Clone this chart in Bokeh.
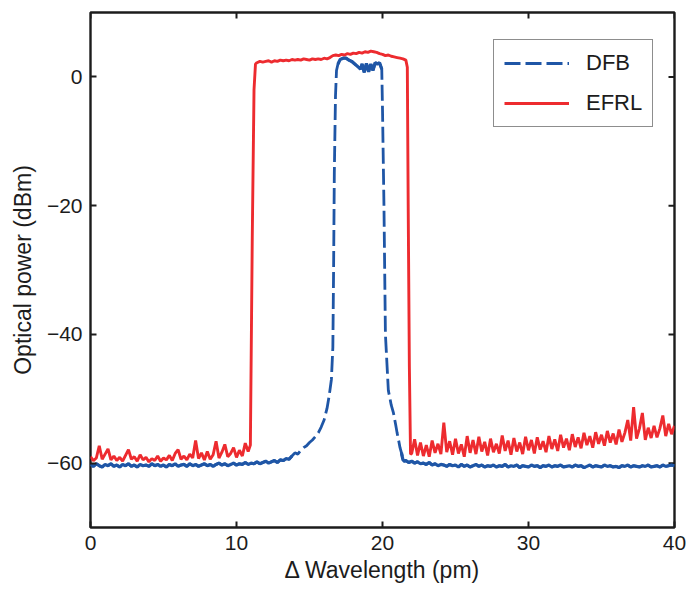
import numpy as np
from bokeh.plotting import figure
from bokeh.models import Range1d, Legend, LegendItem, FixedTicker
from bokeh.embed import file_html
from bokeh.resources import INLINE

# ---------------- data ----------------
x_ticks = [0, 10, 20, 30, 40]
y_ticks = [-60, -40, -20, 0]
y_tick_labels = {-60: "\u221260", -40: "\u221240", -20: "\u221220", 0: "0"}
x_lim = (0, 40)
y_lim = (-70, 10)

# DFB: left floor (x = 0.0 .. 13.0, step 0.2)
dfb_left_y = [
    -60.2, -60.5, -60.1, -60.4, -60.6, -60.2, -60.4, -60.1, -60.5, -60.3,
    -60.6, -60.2, -60.4, -60.1, -60.5, -60.3, -60.6, -60.2, -60.4, -60.3,
    -60.5, -60.1, -60.4, -60.2, -60.5, -60.3, -60.6, -60.2, -60.4, -60.1,
    -60.5, -60.3, -60.2, -60.5, -60.1, -60.4, -60.2, -60.5, -60.3, -60.1,
    -60.4, -60.2, -60.5, -60.2, -60.0, -60.3, -60.1, -60.4, -60.2, -60.0,
    -60.3, -60.1, -60.2, -59.9, -60.2, -60.0, -60.1, -59.8, -60.1, -59.9,
    -59.7, -60.0, -59.8, -59.6, -59.9, -59.5,
]
# DFB: passband
dfb_mid_x = [
    13.2, 13.4, 13.6, 13.8, 14.0, 14.2, 14.4, 14.6, 14.8, 15.0,
    15.2, 15.4, 15.6, 15.8, 16.0, 16.2, 16.35, 16.5, 16.6, 16.65,
    16.7, 16.78, 16.85, 16.95, 17.1, 17.3, 17.5, 17.7, 17.9, 18.1,
    18.3, 18.5, 18.6, 18.75, 18.9, 19.05, 19.2, 19.35, 19.5, 19.65,
    19.8, 19.95, 20.0, 20.1, 20.2, 20.4, 20.6, 20.75, 20.9, 21.0,
    21.1, 21.2, 21.3, 21.4, 21.5,
]
dfb_mid_y = [
    -59.6, -59.3, -59.4, -58.9, -58.4, -58.6, -58.0, -57.6, -57.3, -56.8,
    -56.4, -55.9, -55.3, -54.4, -53.3, -51.5, -49.5, -47.0, -42.0, -30.0,
    -15.0, -3.0, 1.0, 2.0, 2.7, 2.9, 2.9, 2.6, 2.4, 2.0,
    1.6, 1.2, 2.0, 0.7, 2.1, 0.8, 2.0, 1.0, 2.2, 2.0,
    2.2, 1.2, -5.0, -20.0, -40.0, -48.7, -51.0, -52.2, -54.0, -55.3,
    -56.4, -57.6, -58.4, -59.5, -59.7,
]
# DFB: right floor (x = 21.6 .. 40.0, step 0.2)
dfb_right_y = [
    -59.6, -59.9, -59.7, -60.0, -59.8, -60.1, -60.0, -60.2, -59.9, -60.3,
    -60.1, -60.4, -60.2, -60.3, -60.5, -60.2, -60.4, -60.3, -60.6, -60.2,
    -60.5, -60.3, -60.6, -60.4, -60.2, -60.5, -60.3, -60.6, -60.4, -60.5,
    -60.3, -60.6, -60.4, -60.5, -60.2, -60.6, -60.4, -60.5, -60.3, -60.7,
    -60.4, -60.5, -60.6, -60.3, -60.5, -60.4, -60.7, -60.4, -60.5, -60.3,
    -60.6, -60.4, -60.5, -60.3, -60.6, -60.5, -60.4, -60.6, -60.3, -60.5,
    -60.4, -60.7, -60.5, -60.3, -60.6, -60.4, -60.5, -60.6, -60.3, -60.5,
    -60.4, -60.6, -60.5, -60.7, -60.4, -60.5, -60.3, -60.6, -60.4, -60.5,
    -60.6, -60.4, -60.5, -60.3, -60.6, -60.5, -60.4, -60.6, -60.3, -60.5,
    -60.4, -60.3, -60.4,
]

# EFRL: left floor (x = 0.0 .. 10.8, step 0.2)
efrl_left_y = [
    -59.0, -59.6, -59.2, -57.3, -59.4, -58.6, -57.8, -59.5, -58.9, -59.6,
    -59.1, -59.7, -58.8, -57.9, -59.4, -59.0, -59.7, -58.7, -59.5, -59.1,
    -59.8, -59.3, -59.6, -58.9, -59.7, -59.2, -59.5, -58.8, -59.6, -58.5,
    -57.9, -59.4, -58.9, -59.5, -58.6, -59.2, -56.5, -59.3, -58.4, -59.5,
    -58.2, -59.4, -58.7, -56.6, -59.2, -58.3, -57.1, -59.0, -58.5, -57.6,
    -59.1, -58.0, -58.9, -56.9, -58.2,
]
efrl_rise_x = [10.95, 11.08, 11.2, 11.3]
efrl_rise_y = [-57.2, -25.0, -2.0, 2.0]
# EFRL: top (x = 11.4 .. 21.6, step 0.2)
efrl_top_y = [
    2.2, 2.4, 2.3, 2.4, 2.5, 2.3, 2.5, 2.4, 2.6, 2.5,
    2.6, 2.5, 2.7, 2.6, 2.7, 2.6, 2.8, 2.7, 2.6, 2.8,
    2.7, 2.8, 2.7, 2.9, 2.8, 3.0, 3.3, 3.4, 3.3, 3.5,
    3.4, 3.6, 3.5, 3.7, 3.6, 3.8, 3.7, 3.9, 3.8, 4.0,
    3.9, 3.8, 3.6, 3.5, 3.3, 3.4, 3.2, 3.1, 3.0, 2.9,
    2.8, 2.6,
]
efrl_fall_x = [21.7, 21.76, 21.84, 21.92]
efrl_fall_y = [1.5, -20.0, -45.0, -58.6]
# EFRL: right floor (x = 22.0 .. 40.0, step 0.2)
efrl_right_y = [
    -58.5, -56.3, -58.8, -56.8, -58.9, -57.2, -59.0, -56.5, -58.4, -57.0,
    -58.6, -53.7, -58.3, -56.6, -58.7, -56.2, -58.5, -57.1, -59.0, -55.8,
    -58.4, -56.4, -58.6, -55.9, -58.2, -56.7, -58.8, -56.2, -58.3, -57.0,
    -58.5, -55.7, -58.1, -56.5, -58.7, -56.1, -58.2, -56.8, -58.6, -55.9,
    -58.0, -56.4, -58.5, -56.0, -57.9, -56.6, -58.3, -55.8, -57.8, -56.3,
    -58.1, -55.6, -57.6, -56.2, -58.0, -55.5, -57.5, -56.0, -57.7, -55.3,
    -57.2, -55.8, -57.6, -55.2, -57.0, -55.6, -57.3, -55.0, -56.8, -55.4,
    -57.1, -54.8, -56.7, -55.3, -53.3, -56.5, -51.3, -56.2, -54.6, -52.2,
    -56.4, -54.5, -56.1, -54.2, -56.0, -54.6, -52.6, -55.8, -53.9, -55.5,
    -54.2,
]


def grid(start, ys, step=0.2):
    return [float(v) for v in np.round(start + step * np.arange(len(ys)), 3)]


dfb_x = grid(0.0, dfb_left_y) + dfb_mid_x + grid(21.6, dfb_right_y)
dfb_y = dfb_left_y + dfb_mid_y + dfb_right_y
efrl_x = (grid(0.0, efrl_left_y) + efrl_rise_x + grid(11.4, efrl_top_y)
          + efrl_fall_x + grid(22.0, efrl_right_y))
efrl_y = efrl_left_y + efrl_rise_y + efrl_top_y + efrl_fall_y + efrl_right_y

# ---------------- style ----------------
FONT = "Liberation Sans"
TXT = "#1c1c1c"
BLUE = "#1F56A6"
RED = "#ED2B2F"

p = figure(width=687, height=592, x_range=Range1d(*x_lim), y_range=Range1d(*y_lim),
           output_backend="svg", toolbar_location=None,
           min_border_left=90, min_border_right=13, min_border_top=12, min_border_bottom=65)
p.xgrid.visible = False
p.ygrid.visible = False
p.outline_line_color = TXT
p.outline_line_width = 2.4
p.background_fill_color = "white"
p.border_fill_color = "white"


def style_axis(ax, ticks):
    ax.ticker = FixedTicker(ticks=ticks)
    ax.major_tick_in = 6
    ax.major_tick_out = 0
    ax.minor_tick_in = 0
    ax.minor_tick_out = 0
    ax.major_tick_line_color = TXT
    ax.major_tick_line_width = 2
    ax.axis_line_color = None
    ax.major_label_text_font = FONT
    ax.major_label_text_color = TXT
    ax.major_label_text_font_size = "21px"
    ax.major_label_standoff = 8
    ax.axis_label_text_font = FONT
    ax.axis_label_text_color = TXT
    ax.axis_label_text_font_style = "normal"
    ax.axis_label_text_font_size = "23px"


xa = p.xaxis[0]
style_axis(xa, x_ticks)
xa.axis_label = "\u0394 Wavelength (pm)"
xa.axis_label_standoff = 4

ya = p.yaxis[0]
style_axis(ya, y_ticks)
ya.major_label_overrides = y_tick_labels
ya.axis_label = "Optical power (dBm)"
ya.axis_label_standoff = 8

# mirrored inward ticks on the top and right edges (clipped to the frame)
p.scatter(x_ticks, [y_lim[1]] * len(x_ticks), marker="dash", size=12, angle=np.pi / 2,
          line_color=TXT, line_width=2)
p.scatter([x_lim[1]] * len(y_ticks), y_ticks, marker="dash", size=12,
          line_color=TXT, line_width=2)

# ---------------- lines ----------------
r_dfb = p.line(dfb_x, dfb_y, line_color=BLUE, line_width=2.8, line_dash="16 5")

# noisy floor / ripple parts render as a continuous trace
dx = np.array(dfb_x)
solid = (dx <= 13.8) | (dx >= 21.3) | ((dx >= 16.95) & (dx <= 19.95))
segs_x, segs_y = [], []
cur_x, cur_y = [], []
for xv, yv, s in zip(dfb_x, dfb_y, solid):
    if s:
        cur_x.append(xv)
        cur_y.append(yv)
    elif cur_x:
        segs_x.append(cur_x)
        segs_y.append(cur_y)
        cur_x, cur_y = [], []
if cur_x:
    segs_x.append(cur_x)
    segs_y.append(cur_y)
p.multi_line(segs_x, segs_y, line_color=BLUE, line_width=3.2)

r_efrl = p.line(efrl_x, efrl_y, line_color=RED, line_width=2.9)

legend = Legend(items=[LegendItem(label="DFB", renderers=[r_dfb]),
                       LegendItem(label="EFRL", renderers=[r_efrl])],
                location=(403, 400))
legend.margin = 0
legend.padding = 10
legend.spacing = 14
legend.glyph_width = 65
legend.glyph_height = 22
legend.label_height = 22
legend.label_standoff = 17
legend.label_text_font = FONT
legend.label_text_font_size = "22px"
legend.label_text_color = TXT
legend.border_line_color = TXT
legend.border_line_width = 1.8
legend.background_fill_color = "white"
legend.background_fill_alpha = 1.0
p.add_layout(legend)

open("out.html", "w").write(file_html(p, INLINE))
